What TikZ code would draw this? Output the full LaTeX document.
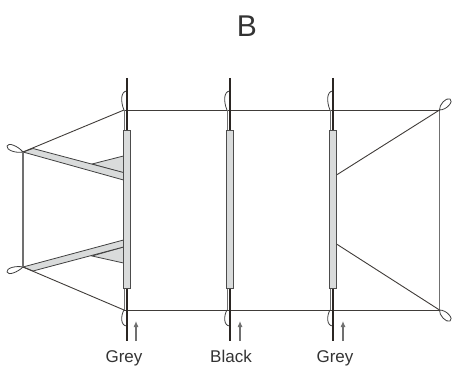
\documentclass[tikz,border=0pt]{standalone}
\usepackage{fontspec}
\setmainfont{Liberation Sans}
\usetikzlibrary{arrows.meta}
\definecolor{poledark}{HTML}{2B2623}
\definecolor{linegrey}{HTML}{707070}
\definecolor{sleevegrey}{HTML}{D9DBDB}
\tikzset{
    pole/.style={line width=2.6pt, poledark},
    guy/.style={line width=0.9pt, poledark!90},
    edge/.style={line width=1.3pt, linegrey},
    sleeve/.style={draw=black!70, line width=1pt, fill=sleevegrey},
    panel/.style={draw=black!75, line width=0.8pt, fill=sleevegrey},
    loopline/.style={line width=0.8pt, black!75, fill=white},
    marker/.style={-{Latex[length=6pt,width=5pt]}, line width=1.1pt, linegrey},
    colourlabel/.style={font=\fontsize{17}{19}\selectfont, text=black!80, inner sep=0pt, anchor=base}
}
\begin{document}
\begin{tikzpicture}[x=1pt,y=-1pt]
    \useasboundingbox (0,0) rectangle (452,366);

    % punkte der segel-ecken
    \coordinate (tl) at (23,152);
    \coordinate (bl) at (23,267);
    \coordinate (tr) at (439.5,110);
    \coordinate (br) at (439.5,310);

    % schlaufen oben und unten an den staeben
    \foreach \x in {127,230,333} {
        \draw[loopline] (\x-3,110) .. controls (\x-6.5,102) and (\x-6.5,91) .. (\x,91);
        \draw[loopline] (\x-3,310) .. controls (\x-6.5,316) and (\x-6.5,326) .. (\x,326);
    }

    % schlaufen an den ecken
    \draw[loopline] (tl) .. controls (16,153.5) and (6,150) .. (7,146) .. controls (8,142) and (18,146) .. (tl);
    \draw[loopline] (bl) .. controls (16,265.5) and (6,268) .. (7,272) .. controls (8,276) and (18,272) .. (bl);
    \draw[loopline] (tr) .. controls (439,105) and (446,97) .. (450,99) .. controls (454,101) and (447,110) .. (tr);
    \draw[loopline] (br) .. controls (439,315) and (446,323) .. (450,321) .. controls (454,319) and (447,310) .. (br);

    % graue flaechen links
    \draw[panel] (92,164) -- (123.5,156) -- (123.5,173) -- cycle;
    \draw[panel] (92,256) -- (123.5,247) -- (123.5,263) -- cycle;
    \draw[panel] (33,148.5) -- (123.5,172.5) -- (123.5,180) -- (tl) -- cycle;
    \draw[panel] (bl) -- (123.5,240) -- (123.5,247) -- (33,271) -- cycle;

    % aussenkanten
    \draw[edge] (tl) -- (bl);
    \draw[edge] (tr) -- (br);
    \draw[guy] (124,110) -- (tr);
    \draw[guy] (124,310) -- (br);
    \draw[guy] (tl) -- (124,110);
    \draw[guy] (bl) -- (124,310);
    \draw[guy] (336.5,175) -- (tr);
    \draw[guy] (336.5,244) -- (br);

    % staebe mit huelle
    \foreach \x in {127,230,333} {
        \draw[edge] (\x-2.5,110) -- (\x-2.5,310);
        \draw[pole] (\x,78) -- (\x,341);
        \draw[sleeve] (\x-3.3,130.5) rectangle (\x+3.3,288.5);
    }

    % pfeile und beschriftung
    \node[colourlabel] (greyleft) at (124,362) {Grey};
    \node[colourlabel] (blackmid) at (231,362) {Black};
    \node[colourlabel] (greyright) at (335,362) {Grey};
    \coordinate (tipa) at (136,321);
    \coordinate (tipb) at (240,321);
    \coordinate (tipc) at (343,321);
    \draw[marker] (136,341) -- (tipa);
    \draw[marker] (240,341) -- (tipb);
    \draw[marker] (343,341) -- (tipc);

    \node[inner sep=0pt, text=black!80, font=\fontsize{30}{32}\selectfont] (title) at (247,26) {B};
\end{tikzpicture}
\end{document}
